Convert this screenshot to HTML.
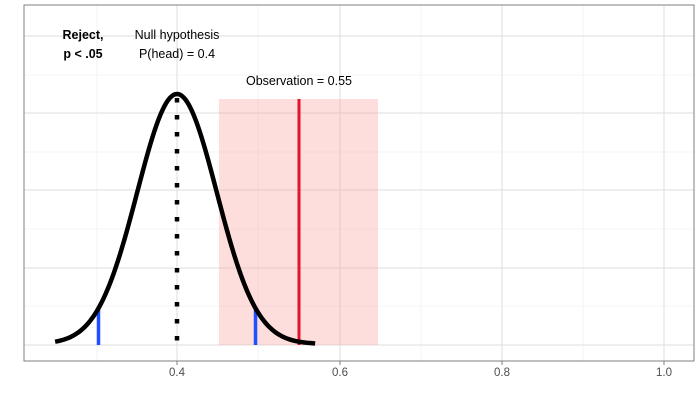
<!DOCTYPE html>
<html><head><meta charset="utf-8"><style>
html,body{margin:0;padding:0;background:#fff;}
svg text{font-family:"Liberation Sans",Arial,sans-serif;}
</style></head><body>
<svg id="s" width="700" height="400" viewBox="0 0 700 400" xmlns="http://www.w3.org/2000/svg">
<rect x="0" y="0" width="700" height="400" fill="#fff"/>
<g stroke="#ebebeb" stroke-width="0.6">
<line x1="24" x2="694" y1="75" y2="75"/><line x1="24" x2="694" y1="152" y2="152"/>
<line x1="24" x2="694" y1="229" y2="229"/><line x1="24" x2="694" y1="306" y2="306"/>
<line x1="97" x2="97" y1="5" y2="361"/><line x1="258" x2="258" y1="5" y2="361"/>
<line x1="421" x2="421" y1="5" y2="361"/><line x1="583" x2="583" y1="5" y2="361"/>
</g>
<g stroke="#dedede" stroke-width="1">
<line x1="24" x2="694" y1="36" y2="36"/><line x1="24" x2="694" y1="113" y2="113"/>
<line x1="24" x2="694" y1="190" y2="190"/><line x1="24" x2="694" y1="268" y2="268"/>
<line x1="24" x2="694" y1="345" y2="345"/>
<line x1="177" x2="177" y1="5" y2="361"/><line x1="340" x2="340" y1="5" y2="361"/>
<line x1="502" x2="502" y1="5" y2="361"/><line x1="664" x2="664" y1="5" y2="361"/>
</g>
<rect x="219" y="99" width="159" height="246" fill="#fb9a99" fill-opacity="0.33"/>
<line x1="299" x2="299" y1="99" y2="345" stroke="#e3142d" stroke-width="3"/>
<line x1="98.5" x2="98.5" y1="309" y2="345" stroke="#1f4fff" stroke-width="3.5"/>
<line x1="255.5" x2="255.5" y1="309" y2="345" stroke="#1f4fff" stroke-width="3.5"/>
<line x1="177" x2="177" y1="98" y2="345" stroke="#000" stroke-width="4.5" stroke-dasharray="4.5 12.5"/>
<path id="curve" d="" fill="none" stroke="#000" stroke-width="4.5"/>
<rect x="24" y="5" width="670" height="356" fill="none" stroke="#7f7f7f" stroke-width="1"/>
<g fill="#4d4d4d" font-size="11.5" text-anchor="middle">
<line x1="177" x2="177" y1="361" y2="365" stroke="#7f7f7f"/><text x="177" y="376">0.4</text>
<line x1="340" x2="340" y1="361" y2="365" stroke="#7f7f7f"/><text x="340" y="376">0.6</text>
<line x1="502" x2="502" y1="361" y2="365" stroke="#7f7f7f"/><text x="502" y="376">0.8</text>
<line x1="664" x2="664" y1="361" y2="365" stroke="#7f7f7f"/><text x="664" y="376">1.0</text>
</g>
<g font-size="12.5" fill="#000" text-anchor="middle">
<text x="83" y="39" font-weight="bold">Reject,</text>
<text x="83" y="58" font-weight="bold">p &lt; .05</text>
<text x="177" y="39">Null hypothesis</text>
<text x="177" y="58">P(head) = 0.4</text>
<text x="299" y="85">Observation = 0.55</text>
</g>
</svg>
<script>
var d="";for(var i=0;i<=200;i++){var v=0.25+0.32*i/200;var z=(v-0.4)/0.049;var y=344-250*Math.exp(-z*z/2);var x=177+(v-0.4)*812.5;d+=(i?"L":"M")+x.toFixed(2)+","+y.toFixed(2);}
document.getElementById("curve").setAttribute("d",d);
</script>
</body></html>
